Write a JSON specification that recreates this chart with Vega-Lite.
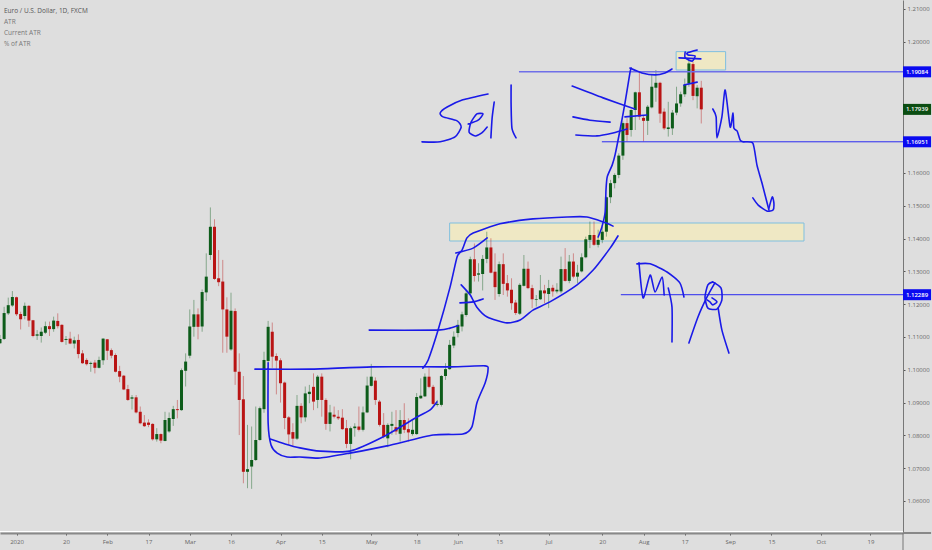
{
  "$schema": "https://vega.github.io/schema/vega-lite/v6.json",
  "width": 903,
  "height": 533,
  "autosize": "none",
  "padding": {"left": 0, "top": 0, "right": 29, "bottom": 17},
  "background": "#dedede",
  "view": {"stroke": null},
  "config": {"axisY": {"labelOverlap": false, "orient": "right", "tickCount": 16}, "axisX": {"labelOverlap": false}},
  "title": {
    "text": "Euro / U.S. Dollar, 1D, FXCM",
    "subtitle": ["ATR", "Current ATR", "% of ATR"],
    "anchor": "start",
    "frame": "group",
    "orient": "top",
    "offset": -47,
    "dx": 4,
    "align": "left",
    "font": "Open Sans",
    "fontSize": 6.5,
    "fontWeight": "normal",
    "color": "#555555",
    "subtitleFont": "Open Sans",
    "subtitleFontSize": 6.5,
    "subtitleColor": "#777777",
    "subtitleLineHeight": 11,
    "subtitlePadding": 4
  },
  "datasets": {
    "candles": [
      {"i":-4,"o":1.1081,"h":1.1106,"l":1.1079,"c":1.1094},
      {"i":-3,"o":1.1094,"h":1.1192,"l":1.1091,"c":1.1173},
      {"i":-2,"o":1.1172,"h":1.1220,"l":1.1167,"c":1.1197},
      {"i":-1,"o":1.1196,"h":1.1240,"l":1.1192,"c":1.1222},
      {"i":0,"o":1.1221,"h":1.1223,"l":1.1164,"c":1.1169},
      {"i":1,"o":1.1170,"h":1.1177,"l":1.1123,"c":1.1154},
      {"i":2,"o":1.1164,"h":1.1205,"l":1.1154,"c":1.1195},
      {"i":3,"o":1.1195,"h":1.1197,"l":1.1131,"c":1.1150},
      {"i":4,"o":1.1151,"h":1.1152,"l":1.1099,"c":1.1103},
      {"i":5,"o":1.1104,"h":1.1121,"l":1.1091,"c":1.1108},
      {"i":6,"o":1.1103,"h":1.1129,"l":1.1083,"c":1.1116},
      {"i":7,"o":1.1113,"h":1.1147,"l":1.1109,"c":1.1133},
      {"i":8,"o":1.1133,"h":1.1147,"l":1.1103,"c":1.1124},
      {"i":9,"o":1.1124,"h":1.1162,"l":1.1116,"c":1.1150},
      {"i":10,"o":1.1149,"h":1.1172,"l":1.1126,"c":1.1133},
      {"i":11,"o":1.1137,"h":1.1139,"l":1.1083,"c":1.1085},
      {"i":12,"o":1.1091,"h":1.1103,"l":1.1076,"c":1.1094},
      {"i":13,"o":1.1095,"h":1.1116,"l":1.1078,"c":1.1080},
      {"i":14,"o":1.1080,"h":1.1101,"l":1.1065,"c":1.1090},
      {"i":15,"o":1.1091,"h":1.1108,"l":1.1035,"c":1.1048},
      {"i":16,"o":1.1050,"h":1.1060,"l":1.1018,"c":1.1020},
      {"i":17,"o":1.1030,"h":1.1035,"l":1.1013,"c":1.1017},
      {"i":18,"o":1.1018,"h":1.1025,"l":1.0994,"c":1.1021},
      {"i":19,"o":1.1022,"h":1.1030,"l":1.0989,"c":1.1006},
      {"i":20,"o":1.1006,"h":1.1040,"l":1.1004,"c":1.1030},
      {"i":21,"o":1.1029,"h":1.1096,"l":1.1015,"c":1.1095},
      {"i":22,"o":1.1093,"h":1.1094,"l":1.1030,"c":1.1058},
      {"i":23,"o":1.1060,"h":1.1065,"l":1.1035,"c":1.1043},
      {"i":24,"o":1.1045,"h":1.1050,"l":1.0992,"c":1.0994},
      {"i":25,"o":1.0996,"h":1.1012,"l":1.0962,"c":1.0979},
      {"i":26,"o":1.0982,"h":1.0984,"l":1.0938,"c":1.0940},
      {"i":27,"o":1.0941,"h":1.0954,"l":1.0905,"c":1.0908},
      {"i":28,"o":1.0912,"h":1.0923,"l":1.0879,"c":1.0916},
      {"i":29,"o":1.0916,"h":1.0923,"l":1.0867,"c":1.0870},
      {"i":30,"o":1.0872,"h":1.0888,"l":1.0834,"c":1.0837},
      {"i":31,"o":1.0839,"h":1.0862,"l":1.0826,"c":1.0828},
      {"i":32,"o":1.0839,"h":1.0849,"l":1.0825,"c":1.0832},
      {"i":33,"o":1.0835,"h":1.0837,"l":1.0784,"c":1.0788},
      {"i":34,"o":1.0788,"h":1.0822,"l":1.0781,"c":1.0804},
      {"i":35,"o":1.0804,"h":1.0806,"l":1.0776,"c":1.0784},
      {"i":36,"o":1.0783,"h":1.0872,"l":1.0782,"c":1.0847},
      {"i":37,"o":1.0812,"h":1.0870,"l":1.0808,"c":1.0853},
      {"i":38,"o":1.0850,"h":1.0890,"l":1.0829,"c":1.0880},
      {"i":39,"o":1.0880,"h":1.0908,"l":1.0852,"c":1.0877},
      {"i":40,"o":1.0877,"h":1.1004,"l":1.0875,"c":1.0999},
      {"i":41,"o":1.0997,"h":1.1050,"l":1.0949,"c":1.1025},
      {"i":42,"o":1.1043,"h":1.1184,"l":1.1035,"c":1.1132},
      {"i":43,"o":1.1131,"h":1.1213,"l":1.1101,"c":1.1169},
      {"i":44,"o":1.1169,"h":1.1187,"l":1.1093,"c":1.1131},
      {"i":45,"o":1.1132,"h":1.1245,"l":1.1116,"c":1.1237},
      {"i":46,"o":1.1236,"h":1.1355,"l":1.1210,"c":1.1284},
      {"i":47,"o":1.1350,"h":1.1495,"l":1.1335,"c":1.1436},
      {"i":48,"o":1.1436,"h":1.1459,"l":1.1274,"c":1.1277},
      {"i":49,"o":1.1279,"h":1.1365,"l":1.1255,"c":1.1267},
      {"i":50,"o":1.1269,"h":1.1335,"l":1.1052,"c":1.1184},
      {"i":51,"o":1.1184,"h":1.1221,"l":1.1052,"c":1.1101},
      {"i":52,"o":1.1062,"h":1.1235,"l":1.1058,"c":1.1180},
      {"i":53,"o":1.1179,"h":1.1187,"l":1.0954,"c":1.0994},
      {"i":54,"o":1.0994,"h":1.1050,"l":1.0801,"c":1.0908},
      {"i":55,"o":1.0910,"h":1.0981,"l":1.0654,"c":1.0689},
      {"i":56,"o":1.0689,"h":1.0832,"l":1.0639,"c":1.0697},
      {"i":57,"o":1.0705,"h":1.0827,"l":1.0637,"c":1.0725},
      {"i":58,"o":1.0725,"h":1.0888,"l":1.0722,"c":1.0786},
      {"i":59,"o":1.0786,"h":1.0888,"l":1.0784,"c":1.0883},
      {"i":60,"o":1.0880,"h":1.1055,"l":1.0869,"c":1.1030},
      {"i":61,"o":1.1027,"h":1.1149,"l":1.1020,"c":1.1131},
      {"i":62,"o":1.1116,"h":1.1144,"l":1.1006,"c":1.1040},
      {"i":63,"o":1.1042,"h":1.1050,"l":1.0925,"c":1.1028},
      {"i":64,"o":1.1029,"h":1.1035,"l":1.0900,"c":1.0959},
      {"i":65,"o":1.0961,"h":1.0964,"l":1.0819,"c":1.0853},
      {"i":66,"o":1.0855,"h":1.0859,"l":1.0771,"c":1.0803},
      {"i":67,"o":1.0810,"h":1.0837,"l":1.0768,"c":1.0790},
      {"i":68,"o":1.0790,"h":1.0923,"l":1.0786,"c":1.0890},
      {"i":69,"o":1.0890,"h":1.0898,"l":1.0837,"c":1.0855},
      {"i":70,"o":1.0855,"h":1.0949,"l":1.0842,"c":1.0928},
      {"i":71,"o":1.0926,"h":1.0954,"l":1.0898,"c":1.0933},
      {"i":72,"o":1.0948,"h":1.0989,"l":1.0877,"c":1.0903},
      {"i":73,"o":1.0908,"h":1.0984,"l":1.0883,"c":1.0979},
      {"i":74,"o":1.0979,"h":1.0989,"l":1.0857,"c":1.0908},
      {"i":75,"o":1.0908,"h":1.0913,"l":1.0817,"c":1.0835},
      {"i":76,"o":1.0835,"h":1.0893,"l":1.0812,"c":1.0870},
      {"i":77,"o":1.0863,"h":1.0888,"l":1.0852,"c":1.0857},
      {"i":78,"o":1.0857,"h":1.0877,"l":1.0847,"c":1.0852},
      {"i":79,"o":1.0854,"h":1.0880,"l":1.0817,"c":1.0819},
      {"i":80,"o":1.0822,"h":1.0847,"l":1.0761,"c":1.0774},
      {"i":81,"o":1.0774,"h":1.0827,"l":1.0727,"c":1.0822},
      {"i":82,"o":1.0822,"h":1.0837,"l":1.0796,"c":1.0827},
      {"i":83,"o":1.0827,"h":1.0888,"l":1.0812,"c":1.0817},
      {"i":84,"o":1.0817,"h":1.0888,"l":1.0812,"c":1.0870},
      {"i":85,"o":1.0870,"h":1.0979,"l":1.0868,"c":1.0952},
      {"i":86,"o":1.0951,"h":1.1018,"l":1.0949,"c":1.0979},
      {"i":87,"o":1.0967,"h":1.0977,"l":1.0893,"c":1.0908},
      {"i":88,"o":1.0903,"h":1.0908,"l":1.0827,"c":1.0832},
      {"i":89,"o":1.0832,"h":1.0868,"l":1.0791,"c":1.0796},
      {"i":90,"o":1.0791,"h":1.0837,"l":1.0764,"c":1.0832},
      {"i":91,"o":1.0829,"h":1.0872,"l":1.0802,"c":1.0835},
      {"i":92,"o":1.0825,"h":1.0877,"l":1.0802,"c":1.0812},
      {"i":93,"o":1.0805,"h":1.0877,"l":1.0781,"c":1.0847},
      {"i":94,"o":1.0847,"h":1.0898,"l":1.0807,"c":1.0817},
      {"i":95,"o":1.0819,"h":1.0852,"l":1.0781,"c":1.0809},
      {"i":96,"o":1.0804,"h":1.0847,"l":1.0799,"c":1.0817},
      {"i":97,"o":1.0804,"h":1.0929,"l":1.0802,"c":1.0917},
      {"i":98,"o":1.0913,"h":1.0974,"l":1.0911,"c":1.0921},
      {"i":99,"o":1.0919,"h":1.0989,"l":1.0917,"c":1.0979},
      {"i":100,"o":1.0979,"h":1.1005,"l":1.0944,"c":1.0948},
      {"i":101,"o":1.0948,"h":1.0954,"l":1.0893,"c":1.0896},
      {"i":102,"o":1.0893,"h":1.0908,"l":1.0888,"c":1.0896},
      {"i":103,"o":1.0893,"h":1.0984,"l":1.0888,"c":1.0981},
      {"i":104,"o":1.0981,"h":1.1020,"l":1.0969,"c":1.1002},
      {"i":105,"o":1.1002,"h":1.1091,"l":1.1000,"c":1.1076},
      {"i":106,"o":1.1074,"h":1.1117,"l":1.1066,"c":1.1101},
      {"i":107,"o":1.1112,"h":1.1152,"l":1.1099,"c":1.1137},
      {"i":108,"o":1.1132,"h":1.1177,"l":1.1117,"c":1.1169},
      {"i":109,"o":1.1167,"h":1.1243,"l":1.1162,"c":1.1233},
      {"i":110,"o":1.1233,"h":1.1345,"l":1.1228,"c":1.1337},
      {"i":111,"o":1.1337,"h":1.1385,"l":1.1269,"c":1.1286},
      {"i":112,"o":1.1290,"h":1.1325,"l":1.1269,"c":1.1294},
      {"i":113,"o":1.1292,"h":1.1350,"l":1.1242,"c":1.1338},
      {"i":114,"o":1.1338,"h":1.1421,"l":1.1325,"c":1.1373},
      {"i":115,"o":1.1373,"h":1.1401,"l":1.1294,"c":1.1296},
      {"i":116,"o":1.1299,"h":1.1355,"l":1.1213,"c":1.1252},
      {"i":117,"o":1.1231,"h":1.1330,"l":1.1223,"c":1.1322},
      {"i":118,"o":1.1322,"h":1.1355,"l":1.1228,"c":1.1262},
      {"i":119,"o":1.1264,"h":1.1289,"l":1.1223,"c":1.1242},
      {"i":120,"o":1.1244,"h":1.1279,"l":1.1183,"c":1.1203},
      {"i":121,"o":1.1205,"h":1.1213,"l":1.1167,"c":1.1173},
      {"i":122,"o":1.1171,"h":1.1264,"l":1.1167,"c":1.1259},
      {"i":123,"o":1.1256,"h":1.1350,"l":1.1254,"c":1.1308},
      {"i":124,"o":1.1308,"h":1.1330,"l":1.1246,"c":1.1249},
      {"i":125,"o":1.1249,"h":1.1259,"l":1.1188,"c":1.1215},
      {"i":126,"o":1.1213,"h":1.1228,"l":1.1193,"c":1.1215},
      {"i":127,"o":1.1215,"h":1.1289,"l":1.1213,"c":1.1242},
      {"i":128,"o":1.1242,"h":1.1259,"l":1.1203,"c":1.1233},
      {"i":129,"o":1.1231,"h":1.1274,"l":1.1188,"c":1.1249},
      {"i":130,"o":1.1250,"h":1.1259,"l":1.1223,"c":1.1239},
      {"i":131,"o":1.1239,"h":1.1264,"l":1.1233,"c":1.1244},
      {"i":132,"o":1.1239,"h":1.1345,"l":1.1233,"c":1.1307},
      {"i":133,"o":1.1307,"h":1.1371,"l":1.1269,"c":1.1271},
      {"i":134,"o":1.1271,"h":1.1350,"l":1.1264,"c":1.1330},
      {"i":135,"o":1.1330,"h":1.1355,"l":1.1279,"c":1.1284},
      {"i":136,"o":1.1284,"h":1.1320,"l":1.1264,"c":1.1296},
      {"i":137,"o":1.1300,"h":1.1355,"l":1.1297,"c":1.1343},
      {"i":138,"o":1.1343,"h":1.1406,"l":1.1340,"c":1.1398},
      {"i":139,"o":1.1396,"h":1.1452,"l":1.1371,"c":1.1411},
      {"i":140,"o":1.1411,"h":1.1452,"l":1.1378,"c":1.1381},
      {"i":141,"o":1.1381,"h":1.1427,"l":1.1373,"c":1.1396},
      {"i":142,"o":1.1396,"h":1.1442,"l":1.1386,"c":1.1421},
      {"i":143,"o":1.1421,"h":1.1528,"l":1.1406,"c":1.1526},
      {"i":144,"o":1.1526,"h":1.1579,"l":1.1508,"c":1.1569},
      {"i":145,"o":1.1569,"h":1.1599,"l":1.1553,"c":1.1594},
      {"i":146,"o":1.1594,"h":1.1660,"l":1.1584,"c":1.1653},
      {"i":147,"o":1.1653,"h":1.1757,"l":1.1640,"c":1.1752},
      {"i":148,"o":1.1752,"h":1.1767,"l":1.1696,"c":1.1716},
      {"i":149,"o":1.1731,"h":1.1794,"l":1.1711,"c":1.1792},
      {"i":150,"o":1.1792,"h":1.1848,"l":1.1731,"c":1.1846},
      {"i":151,"o":1.1846,"h":1.1909,"l":1.1762,"c":1.1772},
      {"i":152,"o":1.1768,"h":1.1774,"l":1.1696,"c":1.1759},
      {"i":153,"o":1.1759,"h":1.1807,"l":1.1716,"c":1.1802},
      {"i":154,"o":1.1800,"h":1.1899,"l":1.1797,"c":1.1863},
      {"i":155,"o":1.1860,"h":1.1914,"l":1.1817,"c":1.1875},
      {"i":156,"o":1.1875,"h":1.1878,"l":1.1753,"c":1.1781},
      {"i":157,"o":1.1787,"h":1.1797,"l":1.1731,"c":1.1736},
      {"i":158,"o":1.1734,"h":1.1817,"l":1.1711,"c":1.1739},
      {"i":159,"o":1.1736,"h":1.1792,"l":1.1716,"c":1.1784},
      {"i":160,"o":1.1784,"h":1.1863,"l":1.1776,"c":1.1812},
      {"i":161,"o":1.1812,"h":1.1848,"l":1.1802,"c":1.1840},
      {"i":162,"o":1.1840,"h":1.1888,"l":1.1832,"c":1.1868},
      {"i":163,"o":1.1873,"h":1.1944,"l":1.1863,"c":1.1934},
      {"i":164,"o":1.1932,"h":1.1939,"l":1.1822,"c":1.1835},
      {"i":165,"o":1.1834,"h":1.1868,"l":1.1797,"c":1.1860},
      {"i":166,"o":1.1860,"h":1.1881,"l":1.1751,"c":1.1794}
    ],
    "strokes": [
      {"s":"box","n":0,"t":57.8,"p":1.1002},{"s":"box","n":1,"t":71.2,"p":1.1002},{"s":"box","n":2,"t":86.2,"p":1.1009},{"s":"box","n":3,"t":105.1,"p":1.1009},{"s":"box","n":4,"t":113.6,"p":1.1012},{"s":"box","n":5,"t":114.3,"p":1.1000},{"s":"box","n":6,"t":113.6,"p":1.0960},{"s":"box","n":7,"t":111.6,"p":1.0899},{"s":"box","n":8,"t":110.4,"p":1.0826},{"s":"box","n":9,"t":108.2,"p":1.0804},{"s":"box","n":10,"t":101.0,"p":1.0801},{"s":"box","n":11,"t":89.8,"p":1.0768},{"s":"box","n":12,"t":80.8,"p":1.0746},{"s":"box","n":13,"t":73.6,"p":1.0731},{"s":"box","n":14,"t":68.7,"p":1.0734},{"s":"box","n":15,"t":65.6,"p":1.0734},{"s":"box","n":16,"t":63.2,"p":1.0746},{"s":"box","n":17,"t":61.7,"p":1.0771},{"s":"box","n":18,"t":61.0,"p":1.0838},{"s":"box","n":19,"t":61.0,"p":1.1021},
      {"s":"arc1","n":0,"t":61.5,"p":1.0789},{"s":"arc1","n":1,"t":65.1,"p":1.0774},{"s":"arc1","n":2,"t":68.7,"p":1.0762},{"s":"arc1","n":3,"t":73.6,"p":1.0752},{"s":"arc1","n":4,"t":80.8,"p":1.0752},{"s":"arc1","n":5,"t":88.8,"p":1.0795},{"s":"arc1","n":6,"t":97.1,"p":1.0856},{"s":"arc1","n":7,"t":100.2,"p":1.0877},{"s":"arc1","n":8,"t":101.9,"p":1.0902},
      {"s":"rise1","n":0,"t":98.5,"p":1.1005},{"s":"rise1","n":1,"t":99.8,"p":1.1030},{"s":"rise1","n":2,"t":102.2,"p":1.1121},{"s":"rise1","n":3,"t":105.1,"p":1.1252},{"s":"rise1","n":4,"t":106.8,"p":1.1344},{"s":"rise1","n":5,"t":108.0,"p":1.1365},{"s":"rise1","n":6,"t":109.2,"p":1.1402},{"s":"rise1","n":7,"t":110.7,"p":1.1417},{"s":"rise1","n":8,"t":117.2,"p":1.1445},{"s":"rise1","n":9,"t":125.2,"p":1.1460},{"s":"rise1","n":10,"t":133.5,"p":1.1466},{"s":"rise1","n":11,"t":138.3,"p":1.1466},{"s":"rise1","n":12,"t":142.2,"p":1.1451},{"s":"rise1","n":13,"t":144.6,"p":1.1438},
      {"s":"flat1","n":0,"t":85.5,"p":1.1121},{"s":"flat1","n":1,"t":102.2,"p":1.1121},{"s":"flat1","n":2,"t":105.1,"p":1.1127},{"s":"flat1","n":3,"t":107.0,"p":1.1134},
      {"s":"dash1","n":0,"t":106.5,"p":1.1356},{"s":"dash1","n":1,"t":110.7,"p":1.1371},{"s":"dash1","n":2,"t":114.1,"p":1.1402},
      {"s":"arc2","n":0,"t":107.8,"p":1.1259},{"s":"arc2","n":1,"t":110.0,"p":1.1228},{"s":"arc2","n":2,"t":111.6,"p":1.1191},{"s":"arc2","n":3,"t":114.1,"p":1.1161},{"s":"arc2","n":4,"t":118.9,"p":1.1143},{"s":"arc2","n":5,"t":122.1,"p":1.1152},{"s":"arc2","n":6,"t":125.2,"p":1.1182},{"s":"arc2","n":7,"t":129.3,"p":1.1207},{"s":"arc2","n":8,"t":135.9,"p":1.1259},{"s":"arc2","n":9,"t":139.8,"p":1.1304},{"s":"arc2","n":10,"t":143.9,"p":1.1371},{"s":"arc2","n":11,"t":145.8,"p":1.1408},
      {"s":"dash2","n":0,"t":107.5,"p":1.1204},{"s":"dash2","n":1,"t":110.7,"p":1.1207},{"s":"dash2","n":2,"t":113.1,"p":1.1216},
      {"s":"rise2","n":0,"t":141.0,"p":1.1405},{"s":"rise2","n":1,"t":141.9,"p":1.1435},{"s":"rise2","n":2,"t":142.7,"p":1.1481},{"s":"rise2","n":3,"t":142.9,"p":1.1548},{"s":"rise2","n":4,"t":143.2,"p":1.1588},{"s":"rise2","n":5,"t":144.4,"p":1.1624},{"s":"rise2","n":6,"t":145.1,"p":1.1655},{"s":"rise2","n":7,"t":146.3,"p":1.1731},{"s":"rise2","n":8,"t":147.5,"p":1.1813},{"s":"rise2","n":9,"t":148.7,"p":1.1905},{"s":"rise2","n":10,"t":149.0,"p":1.1920},
      {"s":"top","n":0,"t":148.7,"p":1.1920},{"s":"top","n":1,"t":151.6,"p":1.1905},{"s":"top","n":2,"t":154.8,"p":1.1899},{"s":"top","n":3,"t":157.2,"p":1.1905},{"s":"top","n":4,"t":158.9,"p":1.1917},
      {"s":"three1","n":0,"t":134.7,"p":1.1865},{"s":"three1","n":1,"t":142.2,"p":1.1829},{"s":"three1","n":2,"t":149.9,"p":1.1795},
      {"s":"three2","n":0,"t":134.9,"p":1.1771},{"s":"three2","n":1,"t":139.0,"p":1.1761},{"s":"three2","n":2,"t":143.9,"p":1.1755},
      {"s":"three3","n":0,"t":135.6,"p":1.1716},{"s":"three3","n":1,"t":140.7,"p":1.1713},{"s":"three3","n":2,"t":144.6,"p":1.1722},{"s":"three3","n":3,"t":148.0,"p":1.1734},
      {"s":"dash3","n":0,"t":147.5,"p":1.1771},{"s":"dash3","n":1,"t":152.8,"p":1.1777},
      {"s":"dash4","n":0,"t":160.6,"p":1.1951},{"s":"dash4","n":1,"t":165.9,"p":1.1948},
      {"s":"scrib1","n":0,"t":162.1,"p":1.1969},{"s":"scrib1","n":1,"t":162.1,"p":1.1951},{"s":"scrib1","n":2,"t":163.8,"p":1.1941},{"s":"scrib1","n":3,"t":164.5,"p":1.1957},{"s":"scrib1","n":4,"t":162.8,"p":1.1960},{"s":"scrib1","n":5,"t":162.6,"p":1.1966},{"s":"scrib1","n":6,"t":165.0,"p":1.1975},
      {"s":"dash5","n":0,"t":161.8,"p":1.1868},{"s":"dash5","n":1,"t":165.0,"p":1.1877},
      {"s":"path","n":0,"t":168.8,"p":1.1795},{"s":"path","n":1,"t":169.6,"p":1.1771},{"s":"path","n":2,"t":169.8,"p":1.1707},{"s":"path","n":3,"t":171.0,"p":1.1771},{"s":"path","n":4,"t":171.8,"p":1.1853},{"s":"path","n":5,"t":173.0,"p":1.1740},{"s":"path","n":6,"t":173.7,"p":1.1783},{"s":"path","n":7,"t":173.9,"p":1.1737},{"s":"path","n":8,"t":174.7,"p":1.1728},{"s":"path","n":9,"t":175.4,"p":1.1701},{"s":"path","n":10,"t":176.1,"p":1.1695},{"s":"path","n":11,"t":178.5,"p":1.1691},{"s":"path","n":12,"t":179.5,"p":1.1624},{"s":"path","n":13,"t":180.7,"p":1.1570},{"s":"path","n":14,"t":182.4,"p":1.1487},
      {"s":"head","n":0,"t":178.5,"p":1.1524},{"s":"head","n":1,"t":179.8,"p":1.1502},{"s":"head","n":2,"t":181.9,"p":1.1484},{"s":"head","n":3,"t":183.4,"p":1.1487},{"s":"head","n":4,"t":183.6,"p":1.1509},{"s":"head","n":5,"t":183.2,"p":1.1527},{"s":"head","n":6,"t":182.4,"p":1.1493},
      {"s":"m","n":0,"t":150.9,"p":1.1326},{"s":"m","n":1,"t":151.9,"p":1.1219},{"s":"m","n":2,"t":153.6,"p":1.1289},{"s":"m","n":3,"t":154.8,"p":1.1237},{"s":"m","n":4,"t":156.5,"p":1.1283},{"s":"m","n":5,"t":157.0,"p":1.1228},
      {"s":"mArc","n":0,"t":150.4,"p":1.1323},{"s":"mArc","n":1,"t":153.6,"p":1.1323},{"s":"mArc","n":2,"t":157.7,"p":1.1298},{"s":"mArc","n":3,"t":160.8,"p":1.1265},{"s":"mArc","n":4,"t":161.8,"p":1.1222},
      {"s":"stem1","n":0,"t":158.0,"p":1.1249},{"s":"stem1","n":1,"t":158.9,"p":1.1191},{"s":"stem1","n":2,"t":158.9,"p":1.1085},
      {"s":"stem2","n":0,"t":163.0,"p":1.1082},{"s":"stem2","n":1,"t":165.2,"p":1.1161},{"s":"stem2","n":2,"t":167.4,"p":1.1222},{"s":"stem2","n":3,"t":169.3,"p":1.1265},
      {"s":"circle","n":0,"t":168.8,"p":1.1268},{"s":"circle","n":1,"t":170.8,"p":1.1249},{"s":"circle","n":2,"t":171.0,"p":1.1213},{"s":"circle","n":3,"t":169.8,"p":1.1185},{"s":"circle","n":4,"t":167.6,"p":1.1188},{"s":"circle","n":5,"t":166.9,"p":1.1222},{"s":"circle","n":6,"t":167.6,"p":1.1259},{"s":"circle","n":7,"t":168.8,"p":1.1268},
      {"s":"scrib2","n":0,"t":167.4,"p":1.1213},{"s":"scrib2","n":1,"t":168.1,"p":1.1207},{"s":"scrib2","n":2,"t":168.8,"p":1.1198},{"s":"scrib2","n":3,"t":169.8,"p":1.1207},{"s":"scrib2","n":4,"t":168.6,"p":1.1219},
      {"s":"stem3","n":0,"t":170.1,"p":1.1188},{"s":"stem3","n":1,"t":171.0,"p":1.1121},{"s":"stem3","n":2,"t":172.7,"p":1.1051},
      {"s":"sellS","n":0,"t":114.3,"p":1.1841},{"s":"sellS","n":1,"t":108.2,"p":1.1823},{"s":"sellS","n":2,"t":104.4,"p":1.1801},{"s":"sellS","n":3,"t":102.7,"p":1.1783},{"s":"sellS","n":4,"t":103.4,"p":1.1771},{"s":"sellS","n":5,"t":106.8,"p":1.1759},{"s":"sellS","n":6,"t":107.8,"p":1.1740},{"s":"sellS","n":7,"t":106.3,"p":1.1710},{"s":"sellS","n":8,"t":102.7,"p":1.1695},{"s":"sellS","n":9,"t":98.3,"p":1.1695},
      {"s":"sellE","n":0,"t":109.5,"p":1.1749},{"s":"sellE","n":1,"t":111.9,"p":1.1761},{"s":"sellE","n":2,"t":113.1,"p":1.1780},{"s":"sellE","n":3,"t":111.6,"p":1.1780},{"s":"sellE","n":4,"t":110.2,"p":1.1755},{"s":"sellE","n":5,"t":109.7,"p":1.1725},{"s":"sellE","n":6,"t":111.2,"p":1.1713},{"s":"sellE","n":7,"t":112.8,"p":1.1722},{"s":"sellE","n":8,"t":114.1,"p":1.1740},
      {"s":"sellL1","n":0,"t":115.8,"p":1.1816},{"s":"sellL1","n":1,"t":115.3,"p":1.1768},{"s":"sellL1","n":2,"t":115.0,"p":1.1707},
      {"s":"sellL2","n":0,"t":119.9,"p":1.1868},{"s":"sellL2","n":1,"t":119.9,"p":1.1807},{"s":"sellL2","n":2,"t":120.1,"p":1.1737},{"s":"sellL2","n":3,"t":121.1,"p":1.1707}
    ]
  },
  "layer": [
    {
      "data": {"values": [
        {"from": 105.0, "to": 190.9, "low": 1.13926, "high": 1.14475},
        {"from": 159.9, "to": 171.9, "low": 1.1914, "high": 1.1970}
      ]},
      "mark": {"type": "rect", "fill": "#efe8c4", "stroke": "#7fbfe0", "strokeWidth": 1},
      "encoding": {
        "x": {
          "field": "from",
          "type": "quantitative",
          "title": null,
          "scale": {"domain": [-4, 214.9], "nice": false, "zero": false, "padding": 0},
          "axis": {
            "orient": "bottom",
            "grid": false,
            "values": [0, 12, 22, 32, 42, 52, 64, 74, 86, 97, 107, 117, 129, 142, 152, 162, 173, 183, 195, 207],
            "labelExpr": "{0:'2020',12:'20',22:'Feb',32:'17',42:'Mar',52:'16',64:'Apr',74:'15',86:'May',97:'18',107:'Jun',117:'15',129:'Jul',142:'20',152:'Aug',162:'17',173:'Sep',183:'15',195:'Oct',207:'19'}[datum.value]",
            "labelFont": "Open Sans",
            "labelFontSize": 6,
            "labelColor": "#666666",
            "labelPadding": 3,
            "labelOverlap": false,
            "domainColor": "#888888",
            "domainWidth": 2,
            "tickColor": "#555555",
            "tickSize": 2
          }
        },
        "x2": {"field": "to"},
        "y": {
          "field": "low",
          "type": "quantitative",
          "title": null,
          "scale": {"domain": [1.05024, 1.21274], "nice": false, "zero": false, "padding": 0},
          "axis": {
            "orient": "right",
            "grid": false,
            "values": [1.06, 1.07, 1.08, 1.09, 1.1, 1.11, 1.12, 1.13, 1.14, 1.15, 1.16, 1.17, 1.18, 1.19, 1.2, 1.21],
            "format": ".5f",
            "labelFont": "Open Sans",
            "labelFontSize": 6,
            "labelColor": "#666666",
            "labelPadding": 2,
            "labelOverlap": false,
            "domainColor": "#777777",
            "domainWidth": 1,
            "tickColor": "#555555",
            "tickSize": 2
          }
        },
        "y2": {"field": "high"}
      }
    },
    {
      "data": {"name": "candles"},
      "mark": {"type": "rule", "strokeWidth": 1, "opacity": 0.42},
      "encoding": {
        "x": {"field": "i", "type": "quantitative", "title": null},
        "y": {"field": "l", "type": "quantitative", "title": null},
        "y2": {"field": "h"},
        "color": {"condition": {"test": "datum.o < datum.c", "value": "#0d5c1a"}, "value": "#b91414"}
      }
    },
    {
      "data": {"name": "candles"},
      "mark": {"type": "bar", "size": 3, "orient": "vertical"},
      "encoding": {
        "x": {"field": "i", "type": "quantitative", "title": null},
        "y": {"field": "o", "type": "quantitative", "title": null},
        "y2": {"field": "c"},
        "color": {"condition": {"test": "datum.o < datum.c", "value": "#0d5c1a"}, "value": "#b91414"}
      }
    },
    {
      "data": {"values": [
        {"start": 121.8, "price": 1.19084, "w": "top"},
        {"start": 141.9, "price": 1.16951, "w": "other"},
        {"start": 146.5, "price": 1.12289, "w": "other"}
      ]},
      "mark": {"type": "rule"},
      "encoding": {
        "x": {"field": "start", "type": "quantitative", "title": null},
        "x2": {"datum": 214.9},
        "y": {"field": "price", "type": "quantitative", "title": null},
        "color": {"condition": {"test": "datum.w === 'top'", "value": "#6f6fe8"}, "value": "#2a2af0"},
        "strokeWidth": {"condition": {"test": "datum.w === 'top'", "value": 1.5}, "value": 1}
      }
    },
    {
      "data": {"name": "strokes"},
      "mark": {"type": "line", "interpolate": "cardinal", "tension": 0.35, "strokeWidth": 1.6, "strokeCap": "round", "strokeJoin": "round", "color": "#1a1ae8"},
      "encoding": {
        "x": {"field": "t", "type": "quantitative", "title": null},
        "y": {"field": "p", "type": "quantitative", "title": null},
        "detail": {"field": "s"},
        "order": {"field": "n", "type": "quantitative"}
      }
    },
    {
      "data": {"values": [
        {"a": -4, "b": 214.9, "lo": 1.0507, "hi": 1.0507, "tone": "white"},
        {"a": 214.9, "b": 221.7, "lo": 1.05024, "hi": 1.05024, "tone": "grey"},
        {"a": 214.9, "b": 214.9, "lo": 1.0450, "hi": 1.05024, "tone": "dark"}
      ]},
      "mark": {"type": "rule", "clip": false},
      "encoding": {
        "x": {"field": "a", "type": "quantitative", "title": null},
        "x2": {"field": "b"},
        "y": {"field": "lo", "type": "quantitative", "title": null},
        "y2": {"field": "hi"},
        "color": {"field": "tone", "type": "nominal", "legend": null, "scale": {"domain": ["white", "grey", "dark"], "range": ["#ffffff", "#888888", "#777777"]}},
        "strokeWidth": {"condition": {"test": "datum.tone === 'grey'", "value": 2}, "value": 1}
      }
    },
    {
      "data": {"values": [
        {"price": 1.19084, "kind": "level"},
        {"price": 1.17939, "kind": "last"},
        {"price": 1.16951, "kind": "level"},
        {"price": 1.12289, "kind": "level"}
      ]},
      "mark": {"type": "rule", "strokeWidth": 11, "clip": false},
      "encoding": {
        "x": {"datum": 214.9, "type": "quantitative"},
        "x2": {"datum": 221.7},
        "y": {"field": "price", "type": "quantitative", "title": null},
        "color": {"condition": {"test": "datum.kind === 'last'", "value": "#0b4d12"}, "value": "#0a0af0"}
      }
    },
    {
      "data": {"values": [
        {"price": 1.19084, "label": "1.19084"},
        {"price": 1.17939, "label": "1.17939"},
        {"price": 1.16951, "label": "1.16951"},
        {"price": 1.12289, "label": "1.12289"}
      ]},
      "mark": {"type": "text", "font": "Open Sans", "fontSize": 6, "fontWeight": 600, "color": "#ffffff", "align": "center", "baseline": "middle", "clip": false},
      "encoding": {
        "x": {"datum": 218.3, "type": "quantitative"},
        "y": {"field": "price", "type": "quantitative", "title": null},
        "text": {"field": "label"}
      }
    }
  ]
}
